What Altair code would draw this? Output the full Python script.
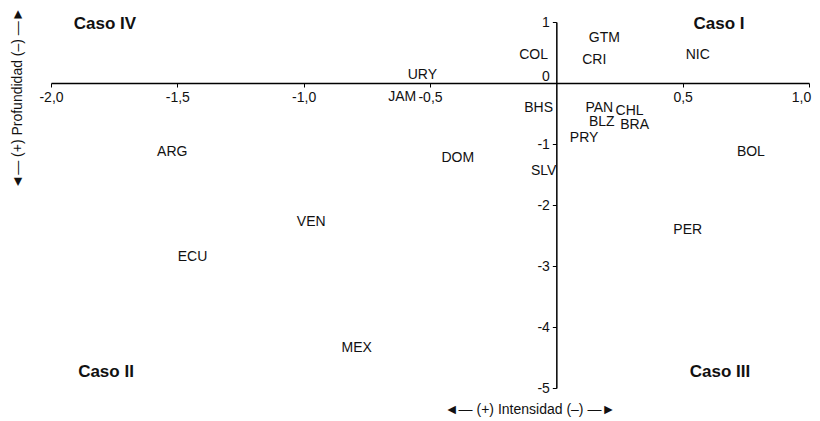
import altair as alt
import pandas as pd

countries = ["GTM", "COL", "CRI", "NIC", "URY", "JAM", "BHS", "PAN", "CHL", "BLZ",
             "BRA", "PRY", "DOM", "SLV", "BOL", "ARG", "VEN", "ECU", "PER", "MEX"]
intensidad = [0.19, -0.09, 0.15, 0.56, -0.53, -0.61, -0.07, 0.17, 0.29, 0.18,
              0.31, 0.11, -0.39, -0.05, 0.77, -1.52, -0.97, -1.44, 0.52, -0.79]
profundidad = [0.74, 0.46, 0.38, 0.46, 0.13, -0.23, -0.41, -0.41, -0.46, -0.64,
               -0.69, -0.90, -1.23, -1.44, -1.13, -1.13, -2.28, -2.85, -2.41, -4.34]
x_ticks = [-2.0, -1.5, -1.0, -0.5, 0.5, 1.0]
y_ticks = [1, 0, -1, -2, -3, -4, -5]

df = pd.DataFrame({"pais": countries, "x": intensidad, "y": profundidad})

FONT = "Liberation Sans, Arial, DejaVu Sans, sans-serif"
W, H = 758, 366

xscale = alt.Scale(domain=[-2, 1], nice=False, zero=False)
yscale = alt.Scale(domain=[-5, 1], nice=False, zero=False)

points = alt.Chart(df).mark_text(font=FONT, fontSize=14, color="#111").encode(
    x=alt.X("x:Q", scale=xscale,
            axis=alt.Axis(values=x_ticks, orient="bottom", offset=-(H * 5 / 6),
                          title=None, grid=False, domainColor="black", domainWidth=1.5,
                          tickColor="black", tickSize=4, tickWidth=1, labelPadding=3,
                          labelFont=FONT, labelFontSize=14, labelColor="#111",
                          labelOverlap=False, labelFlush=False, labelBound=False,
                          labelOffset={"condition": {"test": "datum.value == 1", "value": -8}, "value": 0},
                          labelExpr="(datum.value < 0 ? '-' : '') + replace(format(abs(datum.value), '.1f'), '.', ',')")),
    y=alt.Y("y:Q", scale=yscale,
            axis=alt.Axis(values=y_ticks, orient="left", offset=-(W * 2 / 3),
                          title=None, grid=False, domainColor="black", domainWidth=1.5,
                          tickColor="black", tickSize=4, tickWidth=1, labelPadding=3,
                          labelFont=FONT, labelFontSize=14, labelColor="#111",
                          labelOverlap=False, labelFlush=False,
                          labelBaseline={"condition": {"test": "datum.value == 0", "value": "bottom"}, "value": "middle"},
                          labelExpr="(datum.value < 0 ? '-' : '') + format(abs(datum.value), 'd')")),
    text="pais:N",
)

one = alt.Data(values=[{}])


def label(txt, px, py, size=17, bold=True, angle=0):
    kw = dict(text=txt, font=FONT, fontSize=size, color="#111", align="center", baseline="middle")
    if bold:
        kw["fontWeight"] = "bold"
    if angle:
        kw["angle"] = angle
    return alt.Chart(one).mark_text(**kw).encode(x=alt.value(px), y=alt.value(py))


caso4 = label("Caso IV", 54, 2)
caso1 = label("Caso I", 668, 2)
caso2 = label("Caso II", 55, 350)
caso3 = label("Caso III", 669, 350)
xtitle = label("◄— (+)  Intensidad  (–) —►", 479, 388, size=14, bold=False)
ytitle = label("◄— (+) Profundidad (–) —►", -33, 76, size=14, bold=False, angle=270)

chart = alt.layer(points, caso4, caso1, caso2, caso3, xtitle, ytitle).properties(
    width=W, height=H,
    autosize=alt.AutoSizeParams(type="none"),
    padding={"left": 43, "top": 14, "right": 3, "bottom": 29},
).configure_view(stroke=None)

chart.save("out.html", embed_options={"renderer": "svg", "actions": False})
